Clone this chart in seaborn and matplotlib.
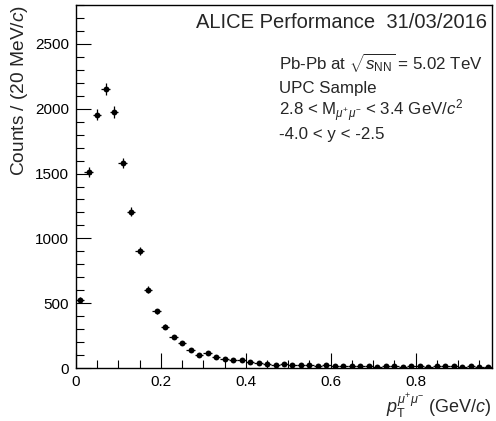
import numpy as np
import matplotlib
matplotlib.use("Agg")
import matplotlib.pyplot as plt
import matplotlib.ticker as mticker
import seaborn as sns

# Datos: cuentas por bin de pT (bins de 20 MeV/c, de 0 a 0.98 GeV/c)
bin_width = 0.02
counts = [525, 1510, 1955, 2150, 1975, 1580, 1205, 905, 605, 438,
          318, 242, 195, 137, 103, 113, 82, 72, 62, 62,
          44, 36, 30, 26, 28, 25, 22, 24, 18, 20,
          17, 15, 12, 14, 18, 10, 16, 12, 10, 14,
          16, 8, 12, 14, 12, 10, 12, 10, 8]

pt = bin_width * (np.arange(len(counts)) + 0.5)
counts = np.array(counts)
err = np.sqrt(counts)

info_lines = ["Pb-Pb at $\\sqrt{s_{\\rm NN}}$ = 5.02 TeV",
              "UPC Sample",
              "2.8 < M$_{\\mu^{+}\\mu^{-}}$ < 3.4 GeV/$c^{2}$",
              "-4.0 < y < -2.5"]

sns.set_style("ticks")
plt.rcParams["font.family"] = ["Liberation Sans", "DejaVu Sans"]
plt.rcParams["mathtext.fontset"] = "custom"
plt.rcParams["mathtext.rm"] = "Liberation Sans"
plt.rcParams["mathtext.it"] = "Liberation Sans:italic"
plt.rcParams["mathtext.bf"] = "Liberation Sans:bold"

fig = plt.figure(figsize=(4.96, 4.21), dpi=100)
ax = fig.add_axes([76 / 496, 53 / 421, 416 / 496, 363 / 421])

# barras de error (horizontal = ancho del bin, vertical = sqrt(N))
ax.errorbar(pt, counts, xerr=bin_width / 2, yerr=err, fmt="none",
            ecolor="black", elinewidth=0.9, capsize=0)
sns.scatterplot(x=pt, y=counts, ax=ax, color="black", s=18,
                marker="o", edgecolor="black", linewidth=0, zorder=3)

ax.set_xlim(0, 0.98)
ax.set_ylim(0, 2800)

ax.xaxis.set_major_locator(mticker.MultipleLocator(0.2))
ax.xaxis.set_minor_locator(mticker.MultipleLocator(0.05))
ax.yaxis.set_major_locator(mticker.MultipleLocator(500))
ax.yaxis.set_minor_locator(mticker.MultipleLocator(100))
ax.xaxis.set_major_formatter(mticker.FuncFormatter(lambda v, p: "%g" % round(v, 2)))
ax.yaxis.set_major_formatter(mticker.FuncFormatter(lambda v, p: "%d" % v))

ax.tick_params(which="both", direction="in", top=False, right=False,
               labelsize=11, colors="black")
ax.tick_params(which="major", length=11, width=0.8)
ax.tick_params(which="minor", length=6, width=0.8)
ax.tick_params(axis="y", pad=5)
ax.tick_params(axis="x", pad=5)

for s in ax.spines.values():
    s.set_visible(True)
    s.set_color("black")
    s.set_linewidth(1.0)

ax.set_xlabel("$p_{\\rm T}^{\\mu^{+}\\mu^{-}}$ (GeV/$c$)", fontsize=13)
ax.xaxis.set_label_coords(1.0, -0.063)
ax.xaxis.label.set_horizontalalignment("right")
ax.set_ylabel("Counts / (20 MeV/$c$)", fontsize=13.8)
ax.yaxis.set_label_coords(-0.135, 1.0)
ax.yaxis.label.set_verticalalignment("center")
ax.yaxis.label.set_horizontalalignment("right")

ax.text(0.988, 0.953, "ALICE Performance  31/03/2016", transform=ax.transAxes,
        ha="right", va="center", fontsize=14.5)
ys = [0.840, 0.771, 0.708, 0.642]
for y, t in zip(ys, info_lines):
    ax.text(0.488, y, t, transform=ax.transAxes, ha="left", va="center",
            fontsize=12.2)

fig.savefig("out.png", dpi=100)
